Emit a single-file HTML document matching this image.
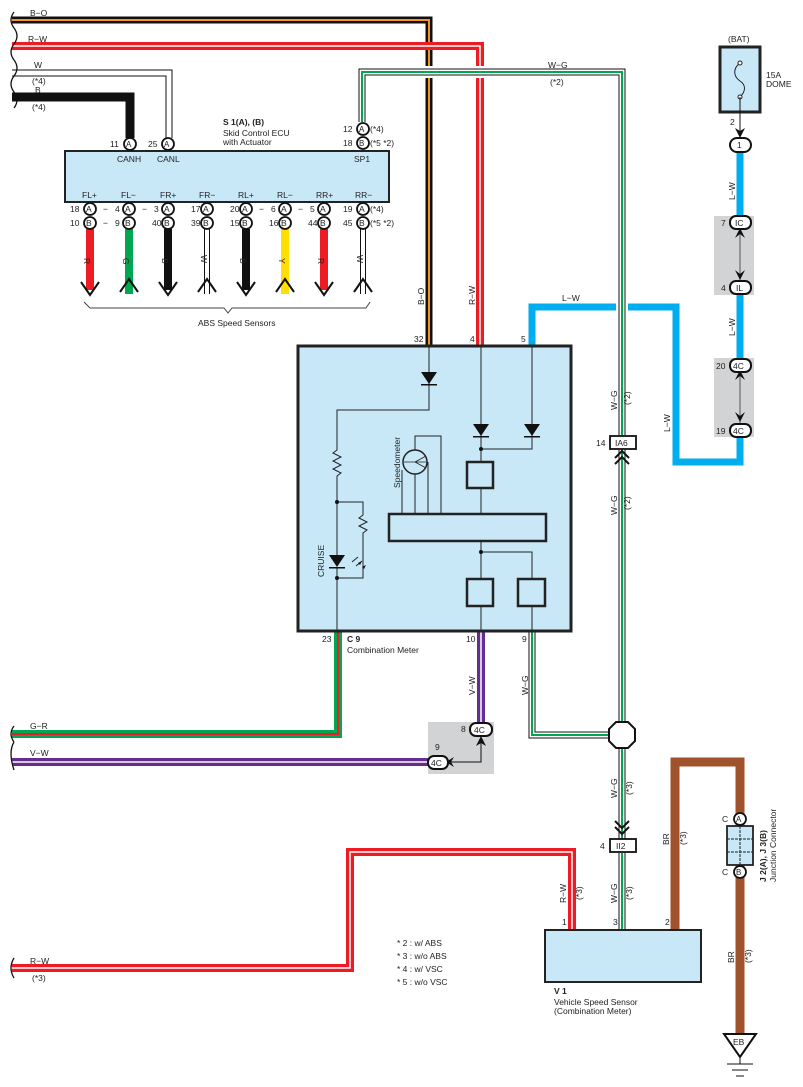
<!DOCTYPE html>
<html><head><meta charset="utf-8"><style>
html,body{margin:0;padding:0;background:#fff;}
svg{display:block;font-family:"Liberation Sans",sans-serif;}
text{font-size:8.5px;fill:#222;}
</style></head><body>
<svg width="803" height="1087" viewBox="0 0 803 1087" xmlns="http://www.w3.org/2000/svg">
<defs>
<path id="bo" d="M12 20 H429 V345" fill="none"/>
<path id="rw1" d="M12 46 H480 V345" fill="none"/>
<path id="w1" d="M12 73 H169 V138" fill="none"/>
<path id="wg1" d="M362 122 V72 H622 V435" fill="none"/>
<path id="wg2" d="M622 450 V722" fill="none"/>
<path id="wg3" d="M532 632 V735 H609" fill="none"/>
<path id="wg4" d="M622 748 V839" fill="none"/>
<path id="wg5" d="M622 853 V930" fill="none"/>
<path id="gr" d="M12 734 H338 V632" fill="none"/>
<path id="vw" d="M12 762 H430" fill="none"/>
<path id="vw2" d="M481 632 V722" fill="none"/>
<path id="rw2" d="M12 968 H350 V852 H572 V930" fill="none"/>
<path id="lw" d="M740 152 V462 H676 V307 H532 V345" fill="none"/>
</defs>
<use href="#bo" stroke="#111" stroke-width="7"/><use href="#bo" stroke="#f7941d" stroke-width="2"/>
<use href="#rw1" stroke="#ed1c24" stroke-width="8"/><use href="#rw1" stroke="#fff" stroke-width="1.5"/>
<use href="#w1" stroke="#111" stroke-width="7"/><use href="#w1" stroke="#fff" stroke-width="5"/>
<path d="M12 97 H130 V138" fill="none" stroke="#111" stroke-width="9"/>
<use href="#lw" stroke="#00aeef" stroke-width="7"/>
<use href="#wg1" stroke="#fff" stroke-width="12"/>
<use href="#wg1" stroke="#111" stroke-width="7"/><use href="#wg1" stroke="#fff" stroke-width="5"/><use href="#wg1" stroke="#00a651" stroke-width="2"/>
<use href="#wg2" stroke="#111" stroke-width="7"/><use href="#wg2" stroke="#fff" stroke-width="5"/><use href="#wg2" stroke="#00a651" stroke-width="2"/>
<use href="#wg3" stroke="#111" stroke-width="7"/><use href="#wg3" stroke="#fff" stroke-width="5"/><use href="#wg3" stroke="#00a651" stroke-width="2"/>
<use href="#wg4" stroke="#111" stroke-width="7"/><use href="#wg4" stroke="#fff" stroke-width="5"/><use href="#wg4" stroke="#00a651" stroke-width="2"/>
<use href="#wg5" stroke="#111" stroke-width="7"/><use href="#wg5" stroke="#fff" stroke-width="5"/><use href="#wg5" stroke="#00a651" stroke-width="2"/>
<use href="#gr" stroke="#00a651" stroke-width="8"/><use href="#gr" stroke="#ed1c24" stroke-width="2"/>
<use href="#vw" stroke="#662d91" stroke-width="8"/><use href="#vw" stroke="#fff" stroke-width="1.5"/>
<use href="#vw2" stroke="#662d91" stroke-width="8"/><use href="#vw2" stroke="#fff" stroke-width="1.5"/>
<use href="#rw2" stroke="#ed1c24" stroke-width="8"/><use href="#rw2" stroke="#fff" stroke-width="1.5"/>
<path d="M675 930 V762 H740 V1034" fill="none" stroke="#a0522d" stroke-width="9"/>
<g fill="none" stroke="#111" stroke-width="1.3">
<path d="M14 12 q-6 8 0 16 q6 8 0 16 q-6 8 0 16 q6 8 0 16 q-6 8 0 16 q6 8 0 16"/>
<path d="M14 726 q-6 8 0 16 M14 742 q-6 10 0 28"/>
<path d="M14 958 q-6 10 0 20"/>
</g>
<rect x="65" y="151" width="324" height="51" fill="#c8e8f8" stroke="#222" stroke-width="2"/>
<g fill="#fff" stroke="#111" stroke-width="1.8">
<circle cx="130" cy="144" r="6"/><circle cx="168" cy="144" r="6"/>
<circle cx="363" cy="129" r="6"/><circle cx="363" cy="143" r="6"/>
</g>
<g><text x="126" y="147" style="font-size:8px">A</text><text x="164" y="147" style="font-size:8px">A</text><text x="359" y="132" style="font-size:8px">A</text><text x="359" y="146" style="font-size:8px">B</text></g>
<text x="110" y="147">11</text><text x="148" y="147">25</text><text x="343" y="132">12</text><text x="343" y="146">18</text>
<text x="370" y="132">(*4)</text><text x="370" y="146">(*5 *2)</text>
<text x="223" y="125" style="font-weight:bold">S 1(A), (B)</text>
<text x="223" y="136">Skid Control ECU</text><text x="223" y="145">with Actuator</text>
<text x="117" y="162">CANH</text><text x="157" y="162">CANL</text><text x="354" y="162">SP1</text>
<g fill="none">
<path d="M90 229 V290" stroke="#ed1c24" stroke-width="8"/>
<path d="M129 229 V294" stroke="#00a651" stroke-width="8"/>
<path d="M168 229 V290" stroke="#111" stroke-width="8"/>
<path d="M207 229 V294" stroke="#111" stroke-width="6"/><path d="M207 229 V294" stroke="#fff" stroke-width="4"/>
<path d="M246 229 V290" stroke="#111" stroke-width="8"/>
<path d="M285 229 V294" stroke="#ffde00" stroke-width="8"/>
<path d="M324 229 V290" stroke="#ed1c24" stroke-width="8"/>
<path d="M363 229 V294" stroke="#111" stroke-width="6"/><path d="M363 229 V294" stroke="#fff" stroke-width="4"/>
<g stroke="#111" stroke-width="2">
<path d="M81 282 L90 295 L99 282"/><path d="M159 282 L168 295 L177 282"/><path d="M237 282 L246 295 L255 282"/><path d="M315 282 L324 295 L333 282"/>
<path d="M120 292 L129 279 L138 292"/><path d="M198 292 L207 279 L216 292"/><path d="M276 292 L285 279 L294 292"/><path d="M354 292 L363 279 L372 292"/>
</g>
<path d="M84 302 L90 308 H224 L228 313 L232 308 H366 L370 302" stroke="#444" stroke-width="1"/>
</g>
<text x="198" y="326">ABS Speed Sensors</text>
<g fill="#fff" stroke="#111" stroke-width="1.8">
<circle cx="90" cy="209" r="6"/><circle cx="129" cy="209" r="6"/><circle cx="168" cy="209" r="6"/><circle cx="207" cy="209" r="6"/><circle cx="246" cy="209" r="6"/><circle cx="285" cy="209" r="6"/><circle cx="324" cy="209" r="6"/><circle cx="363" cy="209" r="6"/>
<circle cx="90" cy="223" r="6"/><circle cx="129" cy="223" r="6"/><circle cx="168" cy="223" r="6"/><circle cx="207" cy="223" r="6"/><circle cx="246" cy="223" r="6"/><circle cx="285" cy="223" r="6"/><circle cx="324" cy="223" r="6"/><circle cx="363" cy="223" r="6"/>
</g>
<g style="font-size:8px">
<text x="86" y="212">A</text><text x="125" y="212">A</text><text x="164" y="212">A</text><text x="203" y="212">A</text><text x="242" y="212">A</text><text x="281" y="212">A</text><text x="320" y="212">A</text><text x="359" y="212">A</text>
<text x="86" y="226">B</text><text x="125" y="226">B</text><text x="164" y="226">B</text><text x="203" y="226">B</text><text x="242" y="226">B</text><text x="281" y="226">B</text><text x="320" y="226">B</text><text x="359" y="226">B</text>
</g>
<text x="82" y="198">FL+</text><text x="121" y="198">FL−</text><text x="160" y="198">FR+</text><text x="199" y="198">FR−</text><text x="238" y="198">RL+</text><text x="277" y="198">RL−</text><text x="316" y="198">RR+</text><text x="355" y="198">RR−</text>
<text x="70" y="212">18</text><text x="103" y="212">−</text><text x="115" y="212">4</text><text x="142" y="212">−</text><text x="154" y="212">3</text><text x="191" y="212">17</text><text x="230" y="212">20</text><text x="259" y="212">−</text><text x="271" y="212">6</text><text x="298" y="212">−</text><text x="310" y="212">5</text><text x="343" y="212">19</text><text x="370" y="212">(*4)</text>
<text x="70" y="226">10</text><text x="103" y="226">−</text><text x="115" y="226">9</text><text x="152" y="226">40</text><text x="191" y="226">39</text><text x="230" y="226">15</text><text x="269" y="226">16</text><text x="308" y="226">44</text><text x="343" y="226">45</text><text x="370" y="226">(*5 *2)</text>
<g style="font-size:8px">
<text transform="translate(84 258) rotate(90)">R</text><text transform="translate(123 258) rotate(90)">G</text><text transform="translate(162 258) rotate(90)">B</text><text transform="translate(201 255) rotate(90)">W</text><text transform="translate(240 258) rotate(90)">B</text><text transform="translate(279 258) rotate(90)">Y</text><text transform="translate(318 258) rotate(90)">R</text><text transform="translate(357 255) rotate(90)">W</text>
</g>
<text x="30" y="16">B−O</text><text x="28" y="42">R−W</text><text x="34" y="68">W</text><text x="32" y="84">(*4)</text><text x="35" y="93">B</text><text x="32" y="110">(*4)</text>
<text x="548" y="68">W−G</text><text x="550" y="85">(*2)</text>
<text transform="translate(424 305) rotate(-90)">B−O</text><text transform="translate(475 305) rotate(-90)">R−W</text>
<text x="562" y="301">L−W</text>
<rect x="298" y="346" width="273" height="285" fill="#c8e8f8" stroke="#222" stroke-width="3"/>
<text x="414" y="342">32</text><text x="470" y="342">4</text><text x="521" y="342">5</text>
<g fill="none" stroke="#222" stroke-width="1">
<path d="M429 346 V410 H337 V450 l-4 3 l8 4 l-8 4 l8 4 l-8 4 l8 4 l-4 3 V555 M337 567 V631"/>
<path d="M337 502 H363 V515 l-4 3 l8 4 l-8 4 l8 4 l-4 3 l0 0 V578 H337"/>
<path d="M481 346 V461 M481 488 V514 M481 541 V578 M481 606 V631"/>
<path d="M532 346 V449 H481 M481 552 H532 V578 M532 606 V631"/>
<path d="M402 514 V470 M415 514 V474 M428 514 V462 M441 514 V436 H415 V450"/>
<path d="M352 562 l6 -5 M356 566 l6 -5"/>
</g>
<g fill="#111">
<path d="M421 372 H437 L429 384 Z"/><rect x="421" y="384" width="16" height="1.5"/>
<path d="M473 424 H489 L481 436 Z"/><rect x="473" y="436" width="16" height="1.5"/>
<path d="M524 424 H540 L532 436 Z"/><rect x="524" y="436" width="16" height="1.5"/>
<path d="M329 555 H345 L337 567 Z"/><rect x="329" y="567" width="16" height="1.5"/>
<circle cx="337" cy="502" r="2"/><circle cx="337" cy="578" r="2"/><circle cx="481" cy="449" r="2"/><circle cx="481" cy="552" r="2"/>
<path d="M362 561 l-4 2 l2 2z M366 565 l-4 2 l2 2z"/>
</g>
<circle cx="415" cy="462" r="12" fill="none" stroke="#222" stroke-width="1.5"/>
<path d="M404 462 H426 M415 462 L426 456 M415 462 L426 468" stroke="#222" stroke-width="0.8" fill="none"/>
<g fill="none" stroke="#222" stroke-width="2.5">
<rect x="467" y="462" width="26" height="26"/><rect x="389" y="514" width="157" height="27"/>
<rect x="467" y="579" width="26" height="27"/><rect x="518" y="579" width="27" height="27"/>
</g>
<text transform="translate(400 488) rotate(-90)">Speedometer</text>
<text transform="translate(324 577) rotate(-90)">CRUISE</text>
<text x="322" y="642">23</text><text x="347" y="642" style="font-weight:bold">C 9</text><text x="347" y="653">Combination Meter</text>
<text x="466" y="642">10</text><text x="522" y="642">9</text>
<text transform="translate(475 695) rotate(-90)">V−W</text><text transform="translate(528 695) rotate(-90)">W−G</text>
<text x="30" y="729">G−R</text><text x="30" y="756">V−W</text>
<rect x="428" y="722" width="66" height="52" fill="#d1d3d4"/>
<path d="M481 740 V762 H450" fill="none" stroke="#111" stroke-width="1"/>
<path d="M476 746 L481 736 L486 746 L481 743Z M454 757 L446 762 L454 767 L451 762Z" fill="#111"/>
<rect x="470" y="723" width="22" height="13" rx="6" fill="#fff" stroke="#111" stroke-width="2"/><text x="474" y="733">4C</text>
<rect x="428" y="756" width="20" height="13" rx="6" fill="#fff" stroke="#111" stroke-width="2"/><text x="431" y="766">4C</text>
<text x="461" y="732">8</text><text x="435" y="750">9</text>
<path d="M616 722 H628 L635 729 V741 L628 748 H616 L609 741 V729 Z" fill="#fff" stroke="#111" stroke-width="2"/>
<path d="M615 458 L622 451 L629 458 M615 464 L622 457 L629 464" fill="none" stroke="#111" stroke-width="2"/>
<rect x="610" y="436" width="26" height="13" fill="#fff" stroke="#111" stroke-width="1.8"/><text x="615" y="446">IA6</text><text x="596" y="446">14</text>
<text transform="translate(617 410) rotate(-90)">W−G</text><text transform="translate(630 405) rotate(-90)">(*2)</text>
<text transform="translate(617 515) rotate(-90)">W−G</text><text transform="translate(630 510) rotate(-90)">(*2)</text>
<text transform="translate(670 432) rotate(-90)">L−W</text>
<path d="M615 827 L622 834 L629 827 M615 821 L622 828 L629 821" fill="none" stroke="#111" stroke-width="2"/>
<rect x="610" y="839" width="26" height="13" fill="#fff" stroke="#111" stroke-width="1.8"/><text x="616" y="849">II2</text><text x="600" y="849">4</text>
<text transform="translate(617 798) rotate(-90)">W−G</text><text transform="translate(632 795) rotate(-90)">(*3)</text>
<text transform="translate(617 903) rotate(-90)">W−G</text><text transform="translate(632 900) rotate(-90)">(*3)</text>
<text transform="translate(566 903) rotate(-90)">R−W</text><text transform="translate(582 900) rotate(-90)">(*3)</text>
<text transform="translate(669 845) rotate(-90)">BR</text><text transform="translate(686 845) rotate(-90)">(*3)</text>
<text transform="translate(734 963) rotate(-90)">BR</text><text transform="translate(751 963) rotate(-90)">(*3)</text>
<text x="562" y="925">1</text><text x="613" y="925">3</text><text x="665" y="925">2</text>
<rect x="545" y="930" width="156" height="52" fill="#c8e8f8" stroke="#222" stroke-width="2"/>
<text x="554" y="994" style="font-weight:bold">V 1</text><text x="554" y="1005">Vehicle Speed Sensor</text><text x="554" y="1014">(Combination Meter)</text>
<text x="397" y="946">* 2 : w/ ABS</text><text x="397" y="959">* 3 : w/o ABS</text><text x="397" y="972">* 4 : w/ VSC</text><text x="397" y="985">* 5 : w/o VSC</text>
<text x="30" y="964">R−W</text><text x="32" y="981">(*3)</text>
<rect x="727" y="826" width="26" height="39" fill="#c8e8f8" stroke="#222" stroke-width="1.8"/>
<path d="M727 839 H753 M727 852 H753 M740 826 V865" stroke="#222" stroke-width="1" stroke-dasharray="3 1"/>
<circle cx="740" cy="819" r="6" fill="#fff" stroke="#111" stroke-width="1.8"/><text x="736" y="822" style="font-size:8px">A</text>
<circle cx="740" cy="872" r="6" fill="#fff" stroke="#111" stroke-width="1.8"/><text x="736" y="875" style="font-size:8px">B</text>
<text x="722" y="822">C</text><text x="722" y="875">C</text>
<text transform="translate(766 882) rotate(-90)" style="font-weight:bold">J 2(A), J 3(B)</text>
<text transform="translate(776 882) rotate(-90)">Junction Connector</text>
<path d="M724 1034 H756 L740 1057 Z" fill="#fff" stroke="#111" stroke-width="2"/><text x="733" y="1045">EB</text>
<path d="M740 1057 V1064 M727 1064 H753 M732 1070 H748 M736 1076 H744" stroke="#111" stroke-width="1"/>
<text x="728" y="42">(BAT)</text>
<rect x="720" y="47" width="40" height="65" fill="#c8e8f8" stroke="#222" stroke-width="3"/>
<path d="M740 63 c-8 6 -6 14 0 18 c6 4 6 10 0 16" fill="none" stroke="#222" stroke-width="1"/>
<circle cx="740" cy="63" r="2" fill="#fff" stroke="#222"/><circle cx="740" cy="97" r="2" fill="#fff" stroke="#222"/>
<text x="766" y="78">15A</text><text x="766" y="87">DOME</text>
<path d="M740 97 V132" stroke="#111" stroke-width="1"/><path d="M735 128 L740 138 L745 128 L740 131Z" fill="#111"/>
<text x="730" y="125">2</text>
<rect x="730" y="138" width="21" height="14" rx="7" fill="#fff" stroke="#111" stroke-width="2"/><text x="737" y="148">1</text>
<text transform="translate(735 200) rotate(-90)">L−W</text><text transform="translate(735 336) rotate(-90)">L−W</text>
<rect x="714" y="216" width="40" height="79" fill="#d1d3d4"/><rect x="714" y="358" width="40" height="79" fill="#d1d3d4"/>
<g stroke="#555" stroke-width="1"><path d="M740 232 V281"/><path d="M740 374 V423"/></g>
<g fill="#111"><path d="M735 238 L740 228 L745 238 L740 234Z M735 270 L740 280 L745 270 L740 274Z M735 380 L740 370 L745 380 L740 376Z M735 412 L740 422 L745 412 L740 416Z"/></g>
<rect x="730" y="216" width="21" height="13" rx="6" fill="#fff" stroke="#111" stroke-width="2"/><text x="735" y="226">IC</text>
<rect x="730" y="281" width="21" height="13" rx="6" fill="#fff" stroke="#111" stroke-width="2"/><text x="736" y="291">IL</text>
<rect x="730" y="359" width="21" height="13" rx="6" fill="#fff" stroke="#111" stroke-width="2"/><text x="733" y="369">4C</text>
<rect x="730" y="424" width="21" height="13" rx="6" fill="#fff" stroke="#111" stroke-width="2"/><text x="733" y="434">4C</text>
<text x="721" y="226">7</text><text x="721" y="291">4</text><text x="716" y="369">20</text><text x="716" y="434">19</text>
</svg>
</body></html>
